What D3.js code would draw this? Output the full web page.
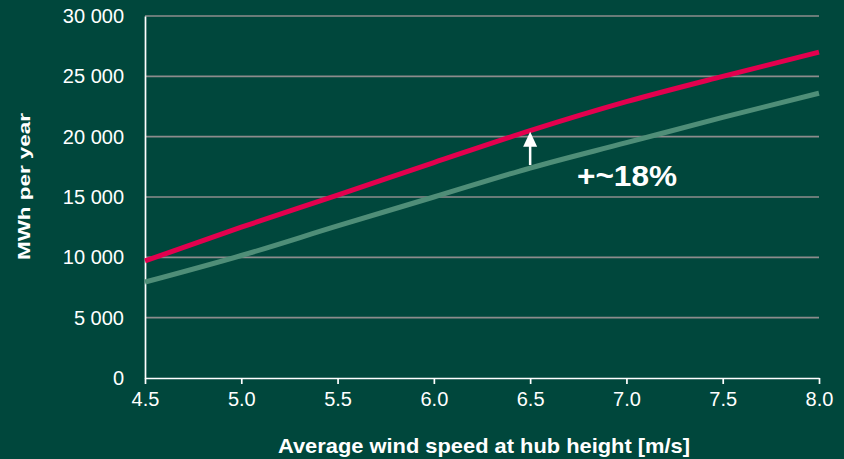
<!DOCTYPE html>
<html>
<head>
<meta charset="utf-8">
<script src="https://cdn.jsdelivr.net/npm/d3@7"></script>
<style>
  html, body { margin: 0; padding: 0; background: #00473c; }
  svg { display: block; font-family: "Liberation Sans", Arial, sans-serif; }
</style>
</head>
<body>
<svg id="chart" width="844" height="459"></svg>
<script>
// Wind speed (m/s) and annual energy yield (MWh) for the two turbine configurations
const windSpeeds = [4.5, 5.0, 5.5, 6.0, 6.5, 7.0, 7.5, 8.0];
const upgradedYield = [9700, 12500, 15150, 17850, 20500, 22900, 25000, 27000];
const baselineYield = [7950, 10150, 12600, 15000, 17400, 19500, 21600, 23600];
const yTicks = [0, 5000, 10000, 15000, 20000, 25000, 30000];
const xTicks = [4.5, 5.0, 5.5, 6.0, 6.5, 7.0, 7.5, 8.0];
const arrowAt = 6.5;
const upliftLabel = "+~18%";

const svg = d3.select("#chart");
const margin = { left: 145, right: 25, top: 16, bottom: 81 };
const W = 844, H = 459;
const FONT = "Liberation Sans, Arial, sans-serif";

const x = d3.scaleLinear().domain([4.5, 8.0]).range([margin.left, W - margin.right]);
const y = d3.scaleLinear().domain([0, 30000]).range([H - margin.bottom, margin.top]);

const fmt = v => d3.format(",")(v).replace(/,/g, " ");

// Horizontal grid lines
svg.append("g")
  .selectAll("line")
  .data(yTicks.filter(d => d > 0))
  .join("line")
  .attr("x1", x(4.5)).attr("x2", x(8.0))
  .attr("y1", d => y(d)).attr("y2", d => y(d))
  .attr("stroke", "#8c8c8c").attr("stroke-width", 1.7);

// Y axis
const yAxis = svg.append("g")
  .attr("transform", `translate(${x(4.5)},0)`)
  .call(d3.axisLeft(y).tickValues(yTicks).tickFormat(fmt).tickSize(0).tickPadding(21));
yAxis.select(".domain").attr("stroke", "#ffffff").attr("stroke-width", 1.7);
yAxis.selectAll("text").attr("fill", "#ffffff").attr("font-size", 20)
  .attr("font-family", FONT);

// X axis
const xAxis = svg.append("g")
  .attr("transform", `translate(0,${y(0)})`)
  .call(d3.axisBottom(x).tickValues(xTicks).tickFormat(d3.format(".1f")).tickSize(6).tickSizeOuter(0).tickPadding(8));
xAxis.select(".domain").attr("stroke", "#ffffff").attr("stroke-width", 1.7);
xAxis.selectAll(".tick line").attr("stroke", "#ffffff").attr("stroke-width", 1.7);
xAxis.selectAll("text").attr("fill", "#ffffff").attr("font-size", 20)
  .attr("font-family", FONT);

// Series lines
const line = d3.line()
  .x((d, i) => x(windSpeeds[i]))
  .y(d => y(d))
  .curve(d3.curveMonotoneX);

svg.append("path")
  .datum(baselineYield)
  .attr("d", line)
  .attr("fill", "none")
  .attr("stroke", "#4f8e78")
  .attr("stroke-width", 5);

svg.append("path")
  .datum(upgradedYield)
  .attr("d", line)
  .attr("fill", "none")
  .attr("stroke", "#e3004e")
  .attr("stroke-width", 5);

// Uplift arrow between the two curves
const ai = windSpeeds.indexOf(arrowAt);
const ax = x(arrowAt);
const yTop = y(upgradedYield[ai]) + 1;
const yBot = y(baselineYield[ai]) - 3;
svg.append("line")
  .attr("x1", ax).attr("x2", ax)
  .attr("y1", yBot).attr("y2", yTop + 12)
  .attr("stroke", "#ffffff").attr("stroke-width", 2.5);
svg.append("path")
  .attr("d", `M${ax},${yTop} L${ax - 7},${yTop + 15} L${ax + 7},${yTop + 15} Z`)
  .attr("fill", "#ffffff");

svg.append("text")
  .attr("x", 577).attr("y", 186)
  .attr("fill", "#ffffff")
  .attr("font-family", FONT)
  .attr("font-size", 30).attr("font-weight", "bold")
  .attr("textLength", 100).attr("lengthAdjust", "spacingAndGlyphs")
  .text(upliftLabel);

// Axis titles
svg.append("text")
  .attr("x", 278)
  .attr("y", 453)
  .attr("fill", "#ffffff")
  .attr("font-family", FONT)
  .attr("font-size", 21).attr("font-weight", "bold")
  .attr("textLength", 412).attr("lengthAdjust", "spacingAndGlyphs")
  .text("Average wind speed at hub height [m/s]");

svg.append("text")
  .attr("transform", "translate(30,260) rotate(-90)")
  .attr("fill", "#ffffff")
  .attr("font-family", FONT)
  .attr("font-size", 16).attr("font-weight", "bold")
  .attr("textLength", 147).attr("lengthAdjust", "spacingAndGlyphs")
  .text("MWh per year");
</script>
</body>
</html>
